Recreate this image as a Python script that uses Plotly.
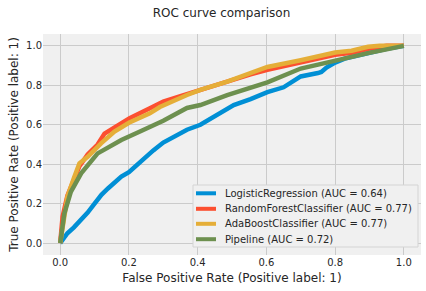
import plotly.graph_objects as go

# LogisticRegression
lr_fpr = [0, 0.007, 0.021, 0.04, 0.061, 0.08, 0.1, 0.12, 0.139, 0.16, 0.178, 0.2, 0.237, 0.271, 0.30, 0.34,
          0.369, 0.408, 0.44, 0.466, 0.505, 0.554, 0.603, 0.65, 0.70, 0.75, 0.76, 0.775, 0.80, 0.828, 0.896, 0.95, 1.0]
lr_tpr = [0, 0.015, 0.05, 0.08, 0.117, 0.155, 0.20, 0.245, 0.277, 0.31, 0.337, 0.36, 0.421, 0.47, 0.51, 0.55,
          0.575, 0.60, 0.635, 0.66, 0.70, 0.73, 0.765, 0.79, 0.845, 0.862, 0.868, 0.89, 0.915, 0.935, 0.965, 0.985, 1.0]

# RandomForestClassifier
rf_fpr = [0, 0.007, 0.021, 0.04, 0.056, 0.08, 0.109, 0.129, 0.163, 0.202, 0.261, 0.30, 0.35, 0.408, 0.486,
          0.554, 0.603, 0.70, 0.80, 0.848, 0.896, 0.95, 1.0]
rf_tpr = [0, 0.134, 0.24, 0.33, 0.39, 0.45, 0.50, 0.555, 0.59, 0.633, 0.684, 0.717, 0.745, 0.777, 0.815,
          0.855, 0.878, 0.915, 0.955, 0.965, 0.985, 1.0, 1.0]

# AdaBoostClassifier
ab_fpr = [0, 0.021, 0.04, 0.056, 0.08, 0.119, 0.158, 0.20, 0.261, 0.29, 0.369, 0.408, 0.486, 0.554, 0.603,
          0.70, 0.80, 0.848, 0.896, 0.93, 1.0]
ab_tpr = [0, 0.235, 0.33, 0.405, 0.438, 0.506, 0.565, 0.61, 0.658, 0.69, 0.751, 0.777, 0.819, 0.861, 0.893,
          0.927, 0.966, 0.975, 0.995, 1.0, 1.0]

# Pipeline
pl_fpr = [0, 0.012, 0.031, 0.061, 0.109, 0.178, 0.237, 0.30, 0.369, 0.408, 0.486, 0.554, 0.603, 0.70, 0.80,
          0.848, 0.896, 1.0]
pl_tpr = [0, 0.15, 0.26, 0.354, 0.455, 0.523, 0.57, 0.62, 0.685, 0.70, 0.75, 0.79, 0.815, 0.885, 0.925,
          0.946, 0.963, 1.0]

names = ["LogisticRegression (AUC = 0.64)", "RandomForestClassifier (AUC = 0.77)",
         "AdaBoostClassifier (AUC = 0.77)", "Pipeline (AUC = 0.72)"]
colors = ["#008fd5", "#fc4f30", "#e5ae38", "#6d904f"]
series = [(lr_fpr, lr_tpr), (rf_fpr, rf_tpr), (ab_fpr, ab_tpr), (pl_fpr, pl_tpr)]

ticks = [0.0, 0.2, 0.4, 0.6, 0.8, 1.0]
tick_text = ["0.0", "0.2", "0.4", "0.6", "0.8", "1.0"]

W, H = 426, 291
ML, MR, MT, MB = 43, 5, 34, 36
PW, PH = W - ML - MR, H - MT - MB


def px_x(p):
    return (p - ML) / PW


def px_y(p):
    return (H - MB - p) / PH


font = "DejaVu Sans"
fig = go.Figure()
for (x, y), n, c in zip(series, names, colors):
    fig.add_trace(go.Scatter(x=x, y=y, mode="lines", name=n, line=dict(color=c, width=4.5), showlegend=False))

axis_common = dict(showgrid=True, gridcolor="#cbcbcb", gridwidth=1, zeroline=False, showline=False,
                   ticks="", tickvals=ticks, ticktext=tick_text, automargin=False,
                   tickfont=dict(family=font, size=10, color="#262626"))

# legend box (drawn manually to match the compact matplotlib legend)
shapes = [dict(type="rect", xref="paper", yref="paper", x0=px_x(193), x1=px_x(418), y0=px_y(247), y1=px_y(185),
               fillcolor="#f0f0f0", line=dict(color="#d4d4d4", width=1), layer="above")]
annotations = []
row_y = [193.3, 208.8, 223.8, 239.2]
for n, c, ry in zip(names, colors, row_y):
    shapes.append(dict(type="line", xref="paper", yref="paper", x0=px_x(196), x1=px_x(216), y0=px_y(ry), y1=px_y(ry),
                       line=dict(color=c, width=4), layer="above"))
    annotations.append(dict(text=n, xref="paper", yref="paper", x=px_x(223), y=px_y(ry), xanchor="left",
                            yanchor="middle", showarrow=False, font=dict(family=font, size=10, color="#262626")))

fig.update_layout(
    width=W, height=H,
    margin=dict(l=ML, r=MR, t=MT, b=MB),
    paper_bgcolor="white", plot_bgcolor="#f0f0f0",
    font=dict(family=font, color="#262626"),
    title=dict(text="ROC curve comparison", x=0.52, xanchor="center", y=0.955, yanchor="middle",
               font=dict(family=font, size=12, color="#262626")),
    xaxis=dict(range=[-0.05, 1.05], title=dict(text="False Positive Rate (Positive label: 1)",
               font=dict(family=font, size=12), standoff=6), **axis_common),
    yaxis=dict(range=[-0.06, 1.06], title=dict(text="True Positive Rate (Positive label: 1)",
               font=dict(family=font, size=12), standoff=4), **axis_common),
    shapes=shapes,
    annotations=annotations,
    showlegend=False,
)
fig.write_html("out.html", config={"displayModeBar": False},
               post_script="document.body.style.margin='0';document.body.style.overflow='hidden';")
